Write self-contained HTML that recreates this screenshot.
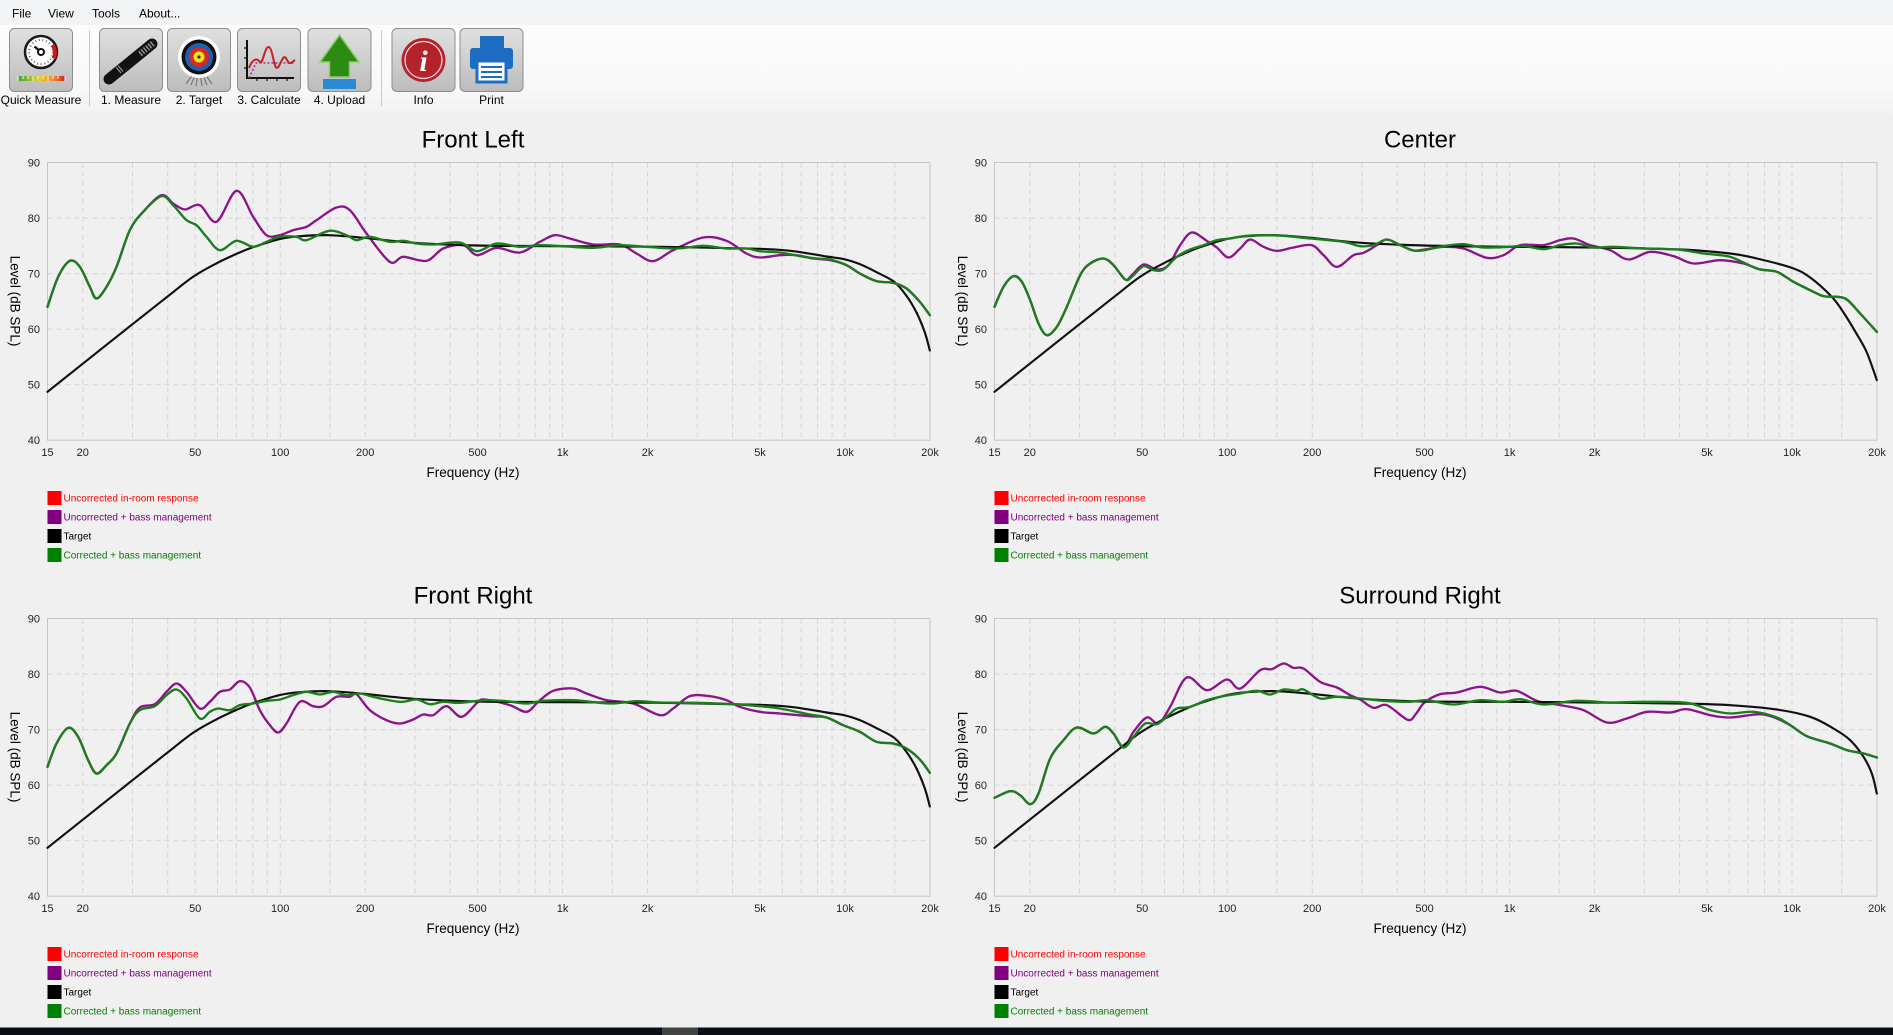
<!DOCTYPE html>
<html><head><meta charset="utf-8">
<style>
html,body{margin:0;padding:0;background:#f0f0f0;width:1893px;height:1035px;overflow:hidden;}
svg{display:block;font-family:"Liberation Sans",Arial,sans-serif;}
</style></head><body>
<svg id="s" width="1893" height="1035" viewBox="0 0 1893 1035" xmlns="http://www.w3.org/2000/svg">
<defs>
 <linearGradient id="btn" x1="0" y1="0" x2="0" y2="1"><stop offset="0" stop-color="#e0e0e0"/><stop offset="1" stop-color="#bcbcbc"/></linearGradient>
 <linearGradient id="tb" x1="0" y1="0" x2="0" y2="1"><stop offset="0" stop-color="#fcfcfc"/><stop offset="0.7" stop-color="#f8f8f8"/><stop offset="1" stop-color="#f0f0f0"/></linearGradient>
 <linearGradient id="rg" x1="0" y1="0" x2="1" y2="0"><stop offset="0" stop-color="#3aa63a"/><stop offset="0.45" stop-color="#e6d02a"/><stop offset="0.75" stop-color="#f08a2a"/><stop offset="1" stop-color="#e02020"/></linearGradient>
 <g id="grid">
  <g stroke="#d4d4d4" stroke-width="1" stroke-dasharray="5,4" fill="none">
   <path d="M0,55.5H882.5M0,111.1H882.5M0,166.6H882.5M0,222.2H882.5"/>
   <path d="M35.3,0V277.7M85,0V277.7M120.3,0V277.7M147.7,0V277.7M170,0V277.7M188.9,0V277.7M205.3,0V277.7M219.8,0V277.7M232.7,0V277.7M282.4,0V277.7M317.7,0V277.7M367.4,0V277.7M402.7,0V277.7M430.1,0V277.7M452.4,0V277.7M471.3,0V277.7M487.7,0V277.7M502.2,0V277.7M515.1,0V277.7M564.8,0V277.7M600.1,0V277.7M649.8,0V277.7M685.1,0V277.7M712.5,0V277.7M734.8,0V277.7M753.7,0V277.7M770.1,0V277.7M784.6,0V277.7M797.5,0V277.7M847.2,0V277.7"/>
  </g>
  <rect x="0" y="0" width="882.5" height="277.7" fill="none" stroke="#c6c6c6" stroke-width="1"/>
 </g>
</defs>

<rect width="1893" height="1035" fill="#f0f0f0"/>
<rect x="0" y="0" width="1893" height="25" fill="#f2f3f4"/>
<rect x="0" y="25" width="1893" height="93" fill="url(#tb)"/>

<!-- menu -->
<g font-size="12" fill="#000">
 <text x="12" y="17.5">File</text>
 <text x="48" y="17.5">View</text>
 <text x="92" y="17.5">Tools</text>
 <text x="139" y="17.5">About...</text>
</g>

<!-- toolbar buttons -->
<g stroke="#8e8e8e" stroke-width="1" fill="url(#btn)">
 <rect x="9.5" y="28.5" width="63" height="63" rx="5"/>
 <rect x="99.5" y="28.5" width="63" height="63" rx="5"/>
 <rect x="167.5" y="28.5" width="63" height="63" rx="5"/>
 <rect x="237.5" y="28.5" width="63" height="63" rx="5"/>
 <rect x="308" y="28.5" width="63" height="63" rx="5"/>
 <rect x="392" y="28.5" width="63" height="63" rx="5"/>
 <rect x="460" y="28.5" width="63" height="63" rx="5"/>
</g>
<line x1="89.5" y1="30" x2="89.5" y2="106" stroke="#c8c8c8"/>
<line x1="381.5" y1="30" x2="381.5" y2="106" stroke="#c8c8c8"/>

<!-- QM icon -->
<circle cx="41" cy="52" r="16" fill="#fff" stroke="#1a1a1a" stroke-width="2.5"/>
<circle cx="41" cy="52" r="12" fill="none" stroke="#666" stroke-width="2" stroke-dasharray="1,2.6"/>
<path d="M52.5,45 A13,13 0 0 1 53.6,58.5" fill="none" stroke="#d01818" stroke-width="4"/>
<line x1="41" y1="52" x2="34.5" y2="46.5" stroke="#111" stroke-width="2.2"/>
<circle cx="41" cy="52" r="3" fill="#fff" stroke="#111" stroke-width="2"/>
<rect x="18" y="76" width="47" height="5" fill="url(#rg)"/>
<path d="M18,76V81M23,76V79M28,76V79M33,76V81M38,76V79M43,76V79M48,76V81M53,76V79M58,76V79M65,76V81" stroke="#f4f4f4" stroke-width="1"/>

<!-- Measure icon -->
<line x1="109" y1="79" x2="152" y2="44" stroke="#111" stroke-width="11" stroke-linecap="round"/>
<line x1="140" y1="54" x2="154" y2="42.5" stroke="#8a8a8a" stroke-width="6" stroke-dasharray="1.6,1.4"/>
<line x1="116" y1="67" x2="121" y2="73" stroke="#9a9a9a" stroke-width="1.2"/>
<line x1="118" y1="65.5" x2="123" y2="71.5" stroke="#9a9a9a" stroke-width="1.2"/>

<!-- Target icon -->
<g stroke="#777" stroke-width="1.2">
 <line x1="199" y1="66" x2="186" y2="84"/><line x1="199" y1="66" x2="191" y2="85"/><line x1="199" y1="66" x2="196" y2="86"/>
 <line x1="199" y1="66" x2="202" y2="86"/><line x1="199" y1="66" x2="207" y2="85"/><line x1="199" y1="66" x2="212" y2="84"/>
</g>
<circle cx="199" cy="57" r="21" fill="#fff"/>
<circle cx="199" cy="57" r="17.5" fill="#111"/>
<circle cx="199" cy="57" r="14" fill="#1f5fb0"/>
<circle cx="199" cy="57" r="10" fill="#d12b2b"/>
<circle cx="199" cy="57" r="5.5" fill="#f3e019"/>
<circle cx="199" cy="57" r="1.6" fill="#333"/>

<!-- Calculate icon -->
<path d="M247,40V78H294" fill="none" stroke="#111" stroke-width="2"/>
<path d="M244,48H247M244,58H247M244,68H247M257,78V81M267,78V81M277,78V81M287,78V81" stroke="#111" stroke-width="1.2"/>
<path d="M249,78 L256,63 H295" fill="none" stroke="#a030a0" stroke-width="1.6" stroke-dasharray="2,2"/>
<path d="M249,68 C253,58 257,58 260,62 C263,66 265,42 270,48 C274,54 274,74 279,66 C283,58 284,54 287,60 C290,66 292,62 295,60" fill="none" stroke="#c62020" stroke-width="2"/>

<!-- Upload icon -->
<polygon points="339.5,35 359,62 349.5,62 349.5,77 329.5,77 329.5,62 320,62" fill="#2e8b12" stroke="#8ccc6c" stroke-width="1.5"/>
<rect x="323" y="79" width="33" height="10" fill="#2a8ad4"/>

<!-- Info icon -->
<circle cx="423.5" cy="60" r="22" fill="#b5232a"/>
<circle cx="423.5" cy="60" r="18.5" fill="none" stroke="#f2d6d6" stroke-width="1.3"/>
<text x="423.5" y="71" font-family="Liberation Serif,serif" font-style="italic" font-weight="bold" font-size="30" fill="#fff" text-anchor="middle">i</text>

<!-- Print icon -->
<rect x="480" y="36" width="24" height="13" fill="#1c6dc1"/>
<rect x="470" y="48" width="43" height="21" rx="3" fill="#1c6dc1"/>
<rect x="477" y="61" width="29" height="21" fill="#fff" stroke="#1c6dc1" stroke-width="3"/>
<path d="M481,67H502M481,72H502M481,77H502" stroke="#1c6dc1" stroke-width="2"/>

<g font-size="12" fill="#000" text-anchor="middle">
 <text x="41" y="104">Quick Measure</text>
 <text x="131" y="104">1. Measure</text>
 <text x="199" y="104">2. Target</text>
 <text x="269" y="104">3. Calculate</text>
 <text x="339.5" y="104">4. Upload</text>
 <text x="423.5" y="104">Info</text>
 <text x="491.5" y="104">Print</text>
</g>

<!-- grids -->
<use href="#grid" x="47.5" y="162.5"/>
<use href="#grid" x="994.5" y="162.5"/>
<use href="#grid" x="47.5" y="618.5"/>
<use href="#grid" x="994.5" y="618.5"/>

<!-- Titles -->
<g font-size="24" fill="#000" text-anchor="middle">
 <text x="473" y="147.5">Front Left</text>
 <text x="1420" y="147.5">Center</text>
 <text x="473" y="603.5">Front Right</text>
 <text x="1420" y="603.5">Surround Right</text>
</g>

<!-- Axis titles -->
<g font-size="13.5" fill="#000" text-anchor="middle">
 <text x="473" y="477">Frequency (Hz)</text>
 <text x="1420" y="477">Frequency (Hz)</text>
 <text x="473" y="933">Frequency (Hz)</text>
 <text x="1420" y="933">Frequency (Hz)</text>
 <text transform="translate(10.5,301) rotate(90)">Level (dB SPL)</text>
 <text transform="translate(958,301) rotate(90)">Level (dB SPL)</text>
 <text transform="translate(10.5,757) rotate(90)">Level (dB SPL)</text>
 <text transform="translate(958,757) rotate(90)">Level (dB SPL)</text>
</g>

<!-- Y tick labels -->
<g font-size="11" fill="#222" text-anchor="end">
 <text x="40" y="166.5">90</text><text x="40" y="222">80</text><text x="40" y="277.6">70</text><text x="40" y="333.1">60</text><text x="40" y="388.7">50</text><text x="40" y="444.2">40</text>
 <text x="987" y="166.5">90</text><text x="987" y="222">80</text><text x="987" y="277.6">70</text><text x="987" y="333.1">60</text><text x="987" y="388.7">50</text><text x="987" y="444.2">40</text>
 <text x="40" y="622.5">90</text><text x="40" y="678">80</text><text x="40" y="733.6">70</text><text x="40" y="789.1">60</text><text x="40" y="844.7">50</text><text x="40" y="900.2">40</text>
 <text x="987" y="622.5">90</text><text x="987" y="678">80</text><text x="987" y="733.6">70</text><text x="987" y="789.1">60</text><text x="987" y="844.7">50</text><text x="987" y="900.2">40</text>
</g>

<!-- X tick labels -->
<g font-size="11" fill="#222" text-anchor="middle">
 <text x="47.5" y="456">15</text><text x="82.8" y="456">20</text><text x="195.2" y="456">50</text><text x="280.2" y="456">100</text><text x="365.2" y="456">200</text><text x="477.6" y="456">500</text><text x="562.6" y="456">1k</text><text x="647.6" y="456">2k</text><text x="760" y="456">5k</text><text x="845" y="456">10k</text><text x="930" y="456">20k</text>
 <text x="994.5" y="456">15</text><text x="1029.8" y="456">20</text><text x="1142.2" y="456">50</text><text x="1227.2" y="456">100</text><text x="1312.2" y="456">200</text><text x="1424.6" y="456">500</text><text x="1509.6" y="456">1k</text><text x="1594.6" y="456">2k</text><text x="1707" y="456">5k</text><text x="1792" y="456">10k</text><text x="1877" y="456">20k</text>
 <text x="47.5" y="912">15</text><text x="82.8" y="912">20</text><text x="195.2" y="912">50</text><text x="280.2" y="912">100</text><text x="365.2" y="912">200</text><text x="477.6" y="912">500</text><text x="562.6" y="912">1k</text><text x="647.6" y="912">2k</text><text x="760" y="912">5k</text><text x="845" y="912">10k</text><text x="930" y="912">20k</text>
 <text x="994.5" y="912">15</text><text x="1029.8" y="912">20</text><text x="1142.2" y="912">50</text><text x="1227.2" y="912">100</text><text x="1312.2" y="912">200</text><text x="1424.6" y="912">500</text><text x="1509.6" y="912">1k</text><text x="1594.6" y="912">2k</text><text x="1707" y="912">5k</text><text x="1792" y="912">10k</text><text x="1877" y="912">20k</text>
</g>

<!-- Legends -->
<g font-size="10">
 <rect x="47.5" y="491" width="14" height="14" fill="#ff0000"/><text x="63.5" y="501.5" fill="#ff0000">Uncorrected in-room response</text>
 <rect x="47.5" y="510" width="14" height="14" fill="#800080"/><text x="63.5" y="520.5" fill="#800080">Uncorrected + bass management</text>
 <rect x="47.5" y="529" width="14" height="14" fill="#000"/><text x="63.5" y="539.5" fill="#000">Target</text>
 <rect x="47.5" y="548" width="14" height="14" fill="#008000"/><text x="63.5" y="558.5" fill="#008000">Corrected + bass management</text>

 <rect x="994.5" y="491" width="14" height="14" fill="#ff0000"/><text x="1010.5" y="501.5" fill="#ff0000">Uncorrected in-room response</text>
 <rect x="994.5" y="510" width="14" height="14" fill="#800080"/><text x="1010.5" y="520.5" fill="#800080">Uncorrected + bass management</text>
 <rect x="994.5" y="529" width="14" height="14" fill="#000"/><text x="1010.5" y="539.5" fill="#000">Target</text>
 <rect x="994.5" y="548" width="14" height="14" fill="#008000"/><text x="1010.5" y="558.5" fill="#008000">Corrected + bass management</text>

 <rect x="47.5" y="947" width="14" height="14" fill="#ff0000"/><text x="63.5" y="957.5" fill="#ff0000">Uncorrected in-room response</text>
 <rect x="47.5" y="966" width="14" height="14" fill="#800080"/><text x="63.5" y="976.5" fill="#800080">Uncorrected + bass management</text>
 <rect x="47.5" y="985" width="14" height="14" fill="#000"/><text x="63.5" y="995.5" fill="#000">Target</text>
 <rect x="47.5" y="1004" width="14" height="14" fill="#008000"/><text x="63.5" y="1014.5" fill="#008000">Corrected + bass management</text>

 <rect x="994.5" y="947" width="14" height="14" fill="#ff0000"/><text x="1010.5" y="957.5" fill="#ff0000">Uncorrected in-room response</text>
 <rect x="994.5" y="966" width="14" height="14" fill="#800080"/><text x="1010.5" y="976.5" fill="#800080">Uncorrected + bass management</text>
 <rect x="994.5" y="985" width="14" height="14" fill="#000"/><text x="1010.5" y="995.5" fill="#000">Target</text>
 <rect x="994.5" y="1004" width="14" height="14" fill="#008000"/><text x="1010.5" y="1014.5" fill="#008000">Corrected + bass management</text>
</g>

<!-- Series: Front Left -->
<g transform="translate(47.5,162.5) scale(0.333333)" fill="none" stroke-linejoin="round" stroke-linecap="round">
 <polyline class="sm" stroke="#8b148b" stroke-width="7" points="0,433 32,343 67,295 97,313 127,373 147,408 177,373 207,313 247,203 287,148 342,98 377,123 412,141 457,128 507,178 567,85 617,163 657,218 697,218 737,203 777,193 807,173 867,135 907,143 957,213 1027,298 1067,283 1137,295 1187,258 1247,248 1289,278 1347,256 1417,270 1477,238 1522,218 1567,228 1637,246 1717,246 1767,273 1817,296 1877,263 1967,225 2037,235 2097,273 2137,285 2197,278 2247,278 2297,288 2347,293 2397,308 2437,333 2487,356 2537,361 2577,378 2617,418 2647,458"/>
 <polyline class="sm" stroke="#111" stroke-width="6.5" points="0,688 104,605 255,485 359,403 438,342 510,301 567,274 614,255 695,230 757,221 845,218 950,226 1100,241 1289,249 1544,251 1837,253 2137,259 2237,266 2337,282 2390,290 2437,305 2487,329 2540,358 2577,400 2607,450 2632,510 2647,564"/>
 <polyline class="sm" stroke="#1b7d1b" stroke-width="7" points="0,433 32,343 67,295 97,313 127,373 147,408 177,373 207,313 247,203 287,148 342,101 377,128 417,173 447,188 477,223 517,263 567,235 617,253 657,238 697,223 747,223 777,233 845,205 897,218 927,233 967,223 1027,238 1067,235 1107,243 1157,246 1237,240 1289,266 1347,243 1417,253 1477,248 1544,251 1637,256 1717,248 1797,253 1887,258 1967,250 2037,258 2097,258 2137,266 2197,270 2257,281 2307,288 2347,291 2397,308 2437,333 2487,356 2537,361 2577,378 2617,418 2647,458"/>
</g>

<!-- Series: Center -->
<g transform="translate(994.5,162.5) scale(0.333333)" fill="none" stroke-linejoin="round" stroke-linecap="round">
 <polyline class="sm" stroke="#8b148b" stroke-width="7" points="0,433 27,373 57,341 82,358 107,413 132,483 157,518 187,493 217,433 257,338 287,303 327,288 357,308 392,351 412,338 447,306 487,321 522,308 557,248 592,210 637,235 667,255 702,285 737,258 767,231 807,253 847,265 897,255 952,248 987,278 1027,313 1077,278 1107,271 1147,248 1177,231 1217,248 1257,264 1290,261 1347,253 1407,258 1477,286 1527,278 1577,248 1647,248 1697,233 1737,228 1787,248 1847,263 1902,291 1967,268 2037,281 2097,303 2177,293 2247,303 2297,321 2347,328 2397,358 2447,383 2487,401 2527,403 2557,411 2597,453 2647,508"/>
 <polyline class="sm" stroke="#111" stroke-width="6.5" points="0,688 104,605 255,485 359,403 438,342 510,301 567,274 614,255 695,230 757,221 845,218 950,226 1100,241 1289,249 1545,253 1802,255 2057,261 2207,273 2287,288 2392,316 2447,345 2512,403 2547,450 2587,515 2617,570 2647,653"/>
 <polyline class="sm" stroke="#1b7d1b" stroke-width="7" points="0,433 27,373 57,341 82,358 107,413 132,483 157,518 187,493 217,433 257,338 287,303 327,288 357,308 392,351 412,343 447,311 477,323 507,321 547,283 587,261 627,248 667,233 707,228 747,221 797,218 867,220 947,228 1047,238 1097,251 1137,248 1177,231 1217,248 1257,264 1290,263 1347,251 1407,245 1467,255 1547,253 1587,250 1647,260 1697,248 1747,243 1797,255 1857,253 1947,258 2047,261 2127,273 2207,283 2287,318 2347,328 2397,358 2447,383 2487,401 2527,403 2557,411 2597,453 2647,508"/>
</g>

<!-- Series: Front Right -->
<g transform="translate(47.5,618.5) scale(0.333333)" fill="none" stroke-linejoin="round" stroke-linecap="round">
 <polyline class="sm" stroke="#8b148b" stroke-width="7" points="0,445 27,375 62,328 92,355 122,425 147,465 177,440 207,405 247,315 277,267 322,257 357,220 387,195 417,220 457,270 487,250 517,220 547,213 577,188 607,207 637,275 667,320 692,342 717,315 757,250 797,263 827,263 867,235 907,235 927,227 967,275 1017,305 1057,315 1097,303 1127,288 1157,290 1197,263 1242,295 1290,252 1312,243 1387,260 1437,280 1472,250 1517,217 1577,210 1617,225 1677,245 1757,255 1837,290 1877,270 1927,233 1987,233 2037,245 2077,265 2137,280 2197,285 2287,293 2337,297 2387,320 2437,340 2487,370 2537,375 2577,390 2617,423 2647,463"/>
 <polyline class="sm" stroke="#111" stroke-width="6.5" points="0,688 104,605 255,485 359,403 438,342 510,301 567,274 614,255 695,230 757,221 845,218 950,226 1100,241 1289,249 1544,251 1837,253 2137,259 2237,266 2337,282 2390,290 2437,305 2487,329 2540,358 2577,400 2607,450 2632,510 2647,564"/>
 <polyline class="sm" stroke="#1b7d1b" stroke-width="7" points="0,445 27,375 62,328 92,355 122,425 147,465 177,440 207,405 247,315 277,275 322,263 357,230 387,213 417,240 457,300 487,280 512,270 547,275 577,260 617,255 657,247 697,243 737,230 777,220 817,228 857,220 897,230 937,225 977,235 1057,250 1107,243 1147,257 1187,250 1237,253 1312,245 1377,248 1437,255 1487,247 1577,245 1687,255 1767,248 1837,252 1937,253 2057,257 2137,263 2197,270 2287,288 2337,297 2387,320 2437,340 2487,370 2537,375 2577,390 2617,423 2647,463"/>
</g>

<!-- Series: Surround Right -->
<g transform="translate(994.5,618.5) scale(0.333333)" fill="none" stroke-linejoin="round" stroke-linecap="round">
 <polyline class="sm" stroke="#8b148b" stroke-width="7" points="0,538 47,518 77,530 107,557 132,525 167,420 207,365 247,327 297,345 332,325 357,345 387,387 417,340 457,297 492,315 527,265 577,177 637,215 697,183 737,210 797,155 832,152 867,135 897,148 927,150 977,190 1027,207 1067,230 1097,243 1137,268 1177,260 1240,304 1265,285 1290,252 1337,227 1387,222 1457,205 1517,222 1567,217 1627,247 1697,260 1767,275 1837,312 1897,300 1957,280 2027,282 2077,272 2147,290 2207,297 2297,287 2347,300 2387,320 2437,353 2507,375 2557,395 2607,405 2647,417"/>
 <polyline class="sm" stroke="#111" stroke-width="6.5" points="0,688 104,605 255,485 359,403 438,342 510,301 567,274 614,255 695,230 757,221 845,218 950,226 1100,241 1289,249 1545,250 1802,252 2057,255 2207,260 2347,273 2447,295 2517,330 2567,365 2607,415 2632,465 2647,525"/>
 <polyline class="sm" stroke="#1b7d1b" stroke-width="7" points="0,538 47,518 77,530 107,557 132,525 167,420 207,365 247,327 297,345 332,325 357,345 387,387 417,355 452,315 487,317 522,290 547,270 587,265 637,245 687,233 737,225 787,217 827,228 867,213 907,217 927,213 977,240 1027,235 1097,240 1167,247 1247,250 1297,245 1377,258 1457,245 1527,250 1577,242 1647,258 1747,247 1847,252 1947,250 2077,253 2147,275 2207,285 2277,280 2347,297 2387,320 2437,353 2507,375 2557,395 2607,405 2647,417"/>
</g>

<!-- bottom taskbar -->
<rect x="0" y="1027.5" width="1893" height="7.5" fill="#0b0f15"/>
<rect x="662" y="1027.5" width="36" height="7.5" fill="#404244"/>
</svg>
<script>
(function(){
  var pls = document.querySelectorAll('polyline.sm');
  for (var k=0;k<pls.length;k++){
    var pl = pls[k];
    var nums = pl.getAttribute('points').trim().split(/[\s,]+/).map(Number);
    var p=[]; for(var i=0;i+1<nums.length;i+=2)p.push([nums[i],nums[i+1]]);
    var d='M'+p[0][0]+','+p[0][1];
    for(var i=0;i<p.length-1;i++){
      var p0=p[i-1]||p[i], p1=p[i], p2=p[i+1], p3=p[i+2]||p2;
      var c1x=p1[0]+(p2[0]-p0[0])/6, c1y=p1[1]+(p2[1]-p0[1])/6;
      var c2x=p2[0]-(p3[0]-p1[0])/6, c2y=p2[1]-(p3[1]-p1[1])/6;
      d+='C'+c1x.toFixed(1)+','+c1y.toFixed(1)+' '+c2x.toFixed(1)+','+c2y.toFixed(1)+' '+p2[0]+','+p2[1];
    }
    var path=document.createElementNS('http://www.w3.org/2000/svg','path');
    path.setAttribute('d',d);
    path.setAttribute('stroke',pl.getAttribute('stroke'));
    path.setAttribute('stroke-width',pl.getAttribute('stroke-width'));
    pl.parentNode.replaceChild(path,pl);
  }
})();
</script>
</body></html>
